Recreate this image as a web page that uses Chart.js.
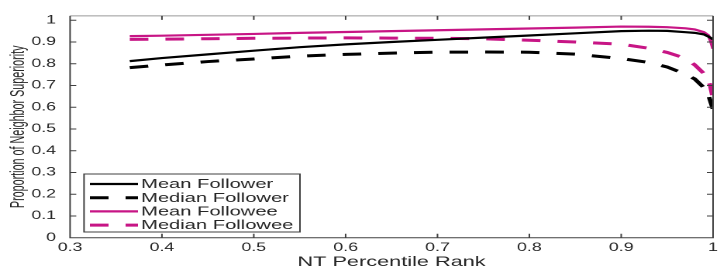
<!DOCTYPE html>
<html>
<head>
<meta charset="utf-8">
<script src="https://cdn.jsdelivr.net/npm/chart.js@4.4.1/dist/chart.umd.min.js"></script>
<style>
  html, body { margin: 0; padding: 0; background: #fff; }
  /* the source figure is stretched sideways, so draw narrow and stretch */
  #wrap { width: 469px; height: 273px; transform: scaleX(1.5501); transform-origin: 0 0; }
</style>
</head>
<body>
<div id="wrap"><canvas id="chart" width="469" height="273"></canvas></div>
<script>
// NT percentile rank, shared x of all curves
const rank = [0.365, 0.4, 0.45, 0.5, 0.55, 0.6, 0.65, 0.7, 0.75, 0.8, 0.85, 0.9, 0.93, 0.95, 0.97, 0.98, 0.99, 0.995, 0.997, 1.0];

const meanFollower   = [0.812, 0.826, 0.843, 0.860, 0.876, 0.889, 0.900, 0.910, 0.920, 0.930, 0.940, 0.950, 0.952, 0.951, 0.945, 0.942, 0.935, 0.925, 0.920, 0.912];
const medianFollower = [0.782, 0.794, 0.810, 0.822, 0.835, 0.843, 0.849, 0.853, 0.854, 0.853, 0.844, 0.824, 0.806, 0.785, 0.752, 0.730, 0.690, 0.655, 0.630, 0.590];
const meanFollowee   = [0.927, 0.929, 0.933, 0.937, 0.942, 0.946, 0.950, 0.954, 0.958, 0.962, 0.966, 0.971, 0.970, 0.968, 0.963, 0.958, 0.945, 0.930, 0.909, 0.869];
const medianFollowee = [0.912, 0.913, 0.915, 0.917, 0.918, 0.919, 0.918, 0.917, 0.915, 0.908, 0.900, 0.890, 0.871, 0.852, 0.825, 0.795, 0.755, 0.720, 0.700, 0.639];

const seriesNames = ["Mean Follower", "Median Follower", "Mean Followee", "Median Followee"];
const xTicks = [0.3, 0.4, 0.5, 0.6, 0.7, 0.8, 0.9, 1];
const yTicks = [0, 0.1, 0.2, 0.3, 0.4, 0.5, 0.6, 0.7, 0.8, 0.9, 1];

const BLACK = "#000000";
const PINK = "#c71585";
const DASH = [12, 11];
const FONT = "'Liberation Sans', Arial, sans-serif";
const TXT = "#262626";

const pts = arr => rank.map((x, i) => ({ x: x, y: arr[i] }));

// frame + inward ticks on all four sides
const framePlugin = {
  id: "frame",
  afterDraw(chart) {
    const { ctx, chartArea: a, scales } = chart;
    ctx.save();
    ctx.lineWidth = 1;
    ctx.setLineDash([]);
    ctx.strokeStyle = "#999";
    ctx.beginPath();
    ctx.moveTo(a.left, a.top); ctx.lineTo(a.right, a.top);
    ctx.stroke();
    ctx.strokeStyle = "#404040";
    ctx.beginPath();
    ctx.moveTo(a.right, a.top); ctx.lineTo(a.right, a.bottom);
    ctx.lineTo(a.left, a.bottom); ctx.lineTo(a.left, a.top);
    xTicks.forEach(v => {
      const px = scales.x.getPixelForValue(v);
      ctx.moveTo(px, a.bottom); ctx.lineTo(px, a.bottom - 4);
      ctx.moveTo(px, a.top); ctx.lineTo(px, a.top + 4);
    });
    yTicks.forEach(v => {
      const py = scales.y.getPixelForValue(v);
      ctx.moveTo(a.left, py); ctx.lineTo(a.left + 4, py);
      ctx.moveTo(a.right, py); ctx.lineTo(a.right - 4, py);
    });
    ctx.stroke();
    ctx.restore();
  }
};

// boxed legend in the lower left of the axes
const legendPlugin = {
  id: "boxLegend",
  afterDraw(chart) {
    const ctx = chart.ctx;
    const bx = 54.2, by = 174, bw = 139.3, bh = 58;
    ctx.save();
    ctx.fillStyle = "#fff";
    ctx.fillRect(bx, by, bw, bh);
    ctx.strokeStyle = "#404040";
    ctx.lineWidth = 1;
    ctx.strokeRect(bx, by, bw, bh);
    ctx.font = "13px " + FONT;
    ctx.textBaseline = "middle";
    chart.data.datasets.forEach((ds, i) => {
      const y = by + 10 + i * 13.7;
      ctx.strokeStyle = ds.borderColor;
      ctx.lineWidth = ds.borderWidth;
      ctx.setLineDash(ds.borderDash || []);
      ctx.beginPath();
      ctx.moveTo(58, y); ctx.lineTo(89, y);
      ctx.stroke();
      ctx.fillStyle = TXT;
      ctx.fillText(ds.label, 91, y + 0.5);
    });
    ctx.restore();
  }
};

// rotated y label, centred on the axes (condensed like the source)
const yTitlePlugin = {
  id: "yTitle",
  afterDraw(chart) {
    const { ctx, chartArea: a } = chart;
    ctx.save();
    ctx.translate(11.8, (a.top + a.bottom) / 2);
    ctx.rotate(-Math.PI / 2);
    ctx.scale(0.86, 1);
    ctx.font = "12.5px " + FONT;
    ctx.fillStyle = TXT;
    ctx.textAlign = "center";
    ctx.textBaseline = "middle";
    ctx.fillText("Proportion of Neighbor Superiority", 0, 0);
    ctx.restore();
  }
};

new Chart(document.getElementById("chart"), {
  type: "line",
  data: {
    datasets: [
      { label: seriesNames[0], data: pts(meanFollower), borderColor: BLACK, borderWidth: 2.2 },
      { label: seriesNames[1], data: pts(medianFollower), borderColor: BLACK, borderWidth: 3, borderDash: DASH },
      { label: seriesNames[2], data: pts(meanFollowee), borderColor: PINK, borderWidth: 2.2 },
      { label: seriesNames[3], data: pts(medianFollowee), borderColor: PINK, borderWidth: 3, borderDash: DASH }
    ]
  },
  options: {
    responsive: false,
    devicePixelRatio: 2,
    animation: false,
    layout: { padding: { left: 0, right: 9, top: 5, bottom: 0 } },
    elements: { point: { radius: 0 }, line: { tension: 0, fill: false } },
    plugins: { legend: { display: false }, tooltip: { enabled: false } },
    scales: {
      x: {
        type: "linear", min: 0.3, max: 1,
        afterBuildTicks: s => { s.ticks = xTicks.map(v => ({ value: v })); },
        afterFit: s => { s.height = 35.3; },
        grid: { display: false, drawTicks: false },
        border: { display: false },
        ticks: { padding: 3, color: TXT, font: { family: FONT, size: 11.5 }, callback: v => String(v) },
        title: { display: true, text: "NT Percentile Rank", color: TXT, font: { family: FONT, size: 14 }, padding: { top: 0, bottom: 2.5 } }
      },
      y: {
        type: "linear", min: 0, max: 1.02,
        afterBuildTicks: s => { s.ticks = yTicks.map(v => ({ value: v })); },
        afterFit: s => { s.width = 45.2; },
        grid: { display: false, drawTicks: false },
        border: { display: false },
        ticks: { padding: 9, color: TXT, font: { family: FONT, size: 11.5 }, callback: v => String(v) }
      }
    }
  },
  plugins: [framePlugin, legendPlugin, yTitlePlugin]
});
</script>
</body>
</html>
